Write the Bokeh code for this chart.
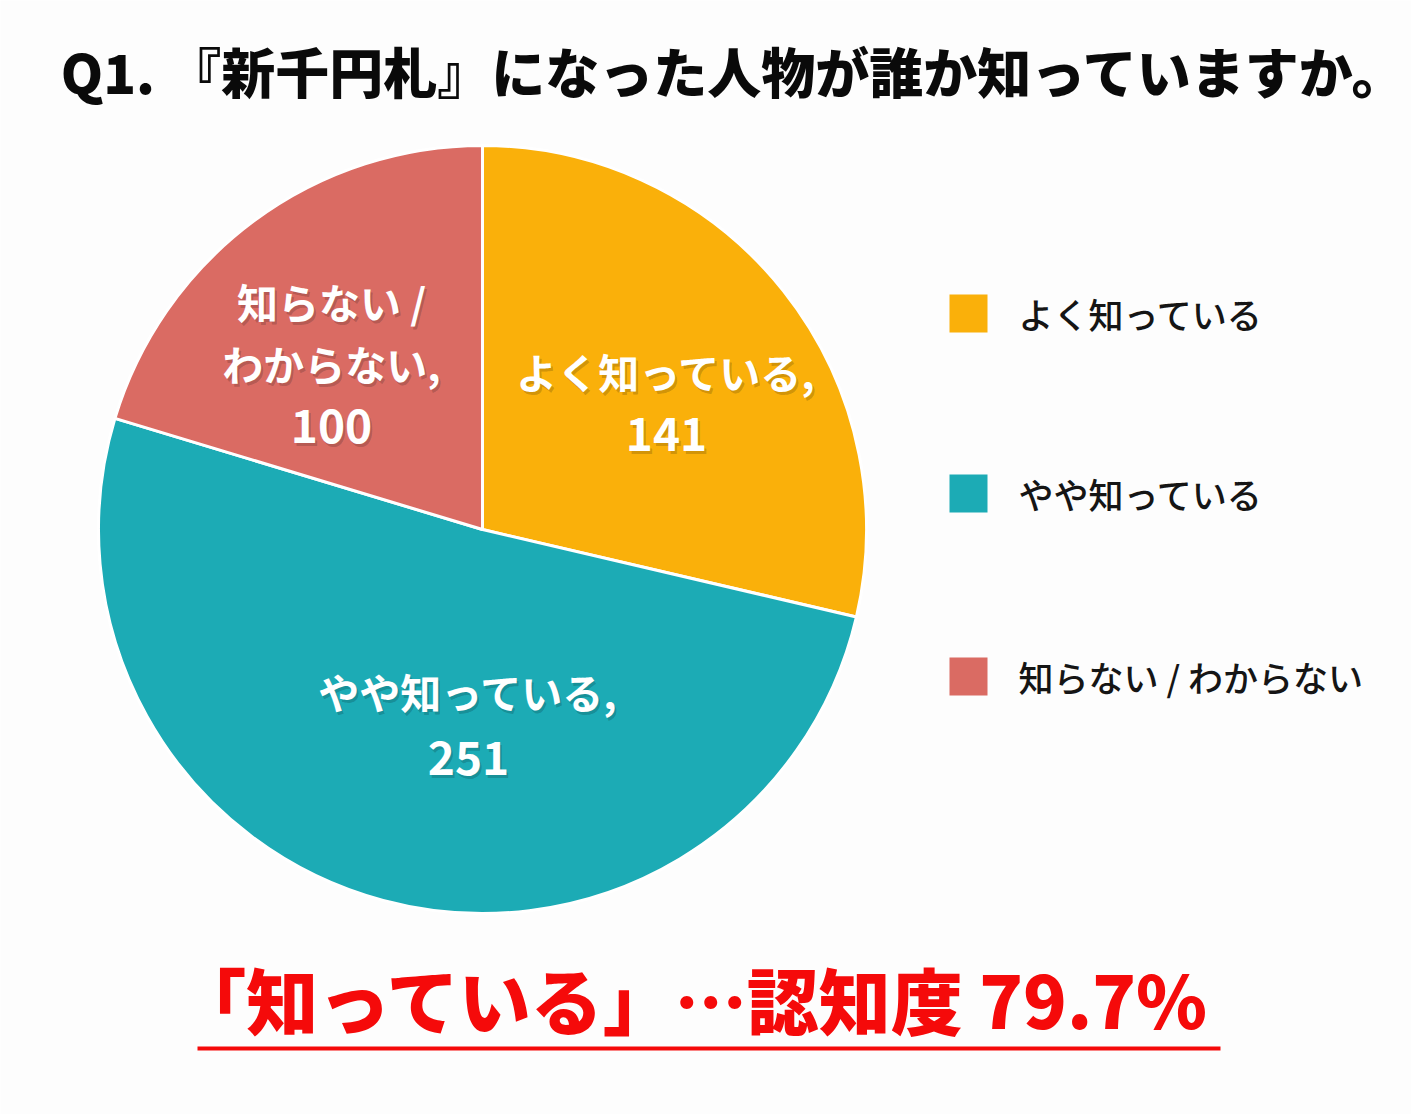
import numpy as np
from bokeh.plotting import figure
from bokeh.models import ColumnDataSource, Range1d
from bokeh.core.properties import value
from bokeh.embed import file_html
from bokeh.resources import INLINE

# ---------------- data ----------------
title_text = "Q1. 『新千円札』になった人物が誰か知っていますか。"
categories = ["よく知っている", "やや知っている", "知らない / わからない"]
values = [141, 251, 100]
colors = ["#FAB00A", "#1CABB5", "#DA6B63"]
summary_text = "「知っている」…認知度 79.7%"

# ---------------- layout ----------------
W, H = 1411, 1114
FONT = "Noto Sans CJK JP"
HEAVY = "'Noto Sans CJK JP Black', 'Noto Sans CJK JP'"
MEDIUM = "'Noto Sans CJK JP Medium', 'Noto Sans CJK JP'"

def py(pix):  # pixel row (from top) -> data y
    return H - pix

p = figure(width=W, height=H, x_range=Range1d(0, W), y_range=Range1d(0, H),
           x_axis_type=None, y_axis_type=None, toolbar_location=None,
           output_backend="svg", min_border=0)
p.grid.visible = False
p.outline_line_color = None
p.background_fill_color = "#FDFDFD"
p.border_fill_color = "#FDFDFD"

# ---------------- pie ----------------
vals = np.array(values, dtype=float)
frac = vals / vals.sum()
cum = np.concatenate([[0.0], np.cumsum(frac)])
start = np.pi / 2 - 2 * np.pi * cum[:-1]
end = np.pi / 2 - 2 * np.pi * cum[1:]

cx, cy, r = 482, py(529), 384
pie_src = ColumnDataSource(dict(start=start, end=end, color=colors, cat=categories))
p.wedge(x=cx, y=cy, radius=r, start_angle="start", end_angle="end",
        direction="clock", fill_color="color", line_color="white",
        line_width=3, source=pie_src)

# ---------------- slice labels ----------------
label_anchor = [(666, [370, 433]), (468, [690, 757]), (331, [300, 362, 425])]
lx, ly, lt, ls = [], [], [], []
for cat, v, (ax, rows) in zip(categories, values, label_anchor):
    parts = cat.split(" / ")
    lines = [s + " /" for s in parts[:-1]] + [parts[-1] + ","] + [str(v)]
    for k, (txt, row) in enumerate(zip(lines, rows)):
        lx.append(ax)
        ly.append(py(row))
        lt.append(txt)
        ls.append("46px" if k == len(lines) - 1 else "41px")

shadow = ColumnDataSource(dict(x=[x + 2 for x in lx], y=[y - 3 for y in ly], t=lt, s=ls))
p.text(x="x", y="y", text="t", source=shadow, text_font=value(FONT),
       text_font_style="bold", text_font_size="s", text_color="#000000",
       text_alpha=0.18, text_align="center", text_baseline="middle")
lab = ColumnDataSource(dict(x=lx, y=ly, t=lt, s=ls))
p.text(x="x", y="y", text="t", source=lab, text_font=value(FONT),
       text_font_style="bold", text_font_size="s", text_color="white",
       text_align="center", text_baseline="middle")

# ---------------- legend ----------------
leg_rows = [313, 493, 676]
leg_src = ColumnDataSource(dict(
    x=[968] * len(categories), y=[py(rw) for rw in leg_rows],
    tx=[1018] * len(categories), color=colors, cat=categories))
p.rect(x="x", y="y", width=38, height=38, fill_color="color", line_color=None,
       source=leg_src)
p.text(x="tx", y="y", text="cat", source=leg_src, text_font=value(MEDIUM),
       text_font_size="35px", text_color="#151515",
       text_align="left", text_baseline="middle")

# ---------------- title ----------------
p.text(x=[734], y=[py(70)], text=[title_text], text_font=value(HEAVY),
       text_font_style="bold", text_font_size="54px", text_color="#0A0A0A",
       text_align="center", text_baseline="middle")

# ---------------- summary ----------------
p.text(x=[692], y=[py(997)], text=[summary_text], text_font=value(HEAVY),
       text_font_style="bold", text_font_size="72px", text_color="#F50A0A",
       text_align="center", text_baseline="middle")
p.segment(x0=[197], y0=[py(1048)], x1=[1220], y1=[py(1048)],
          line_color="#F50A0A", line_width=4)

open("out.html", "w").write(file_html(p, INLINE))
